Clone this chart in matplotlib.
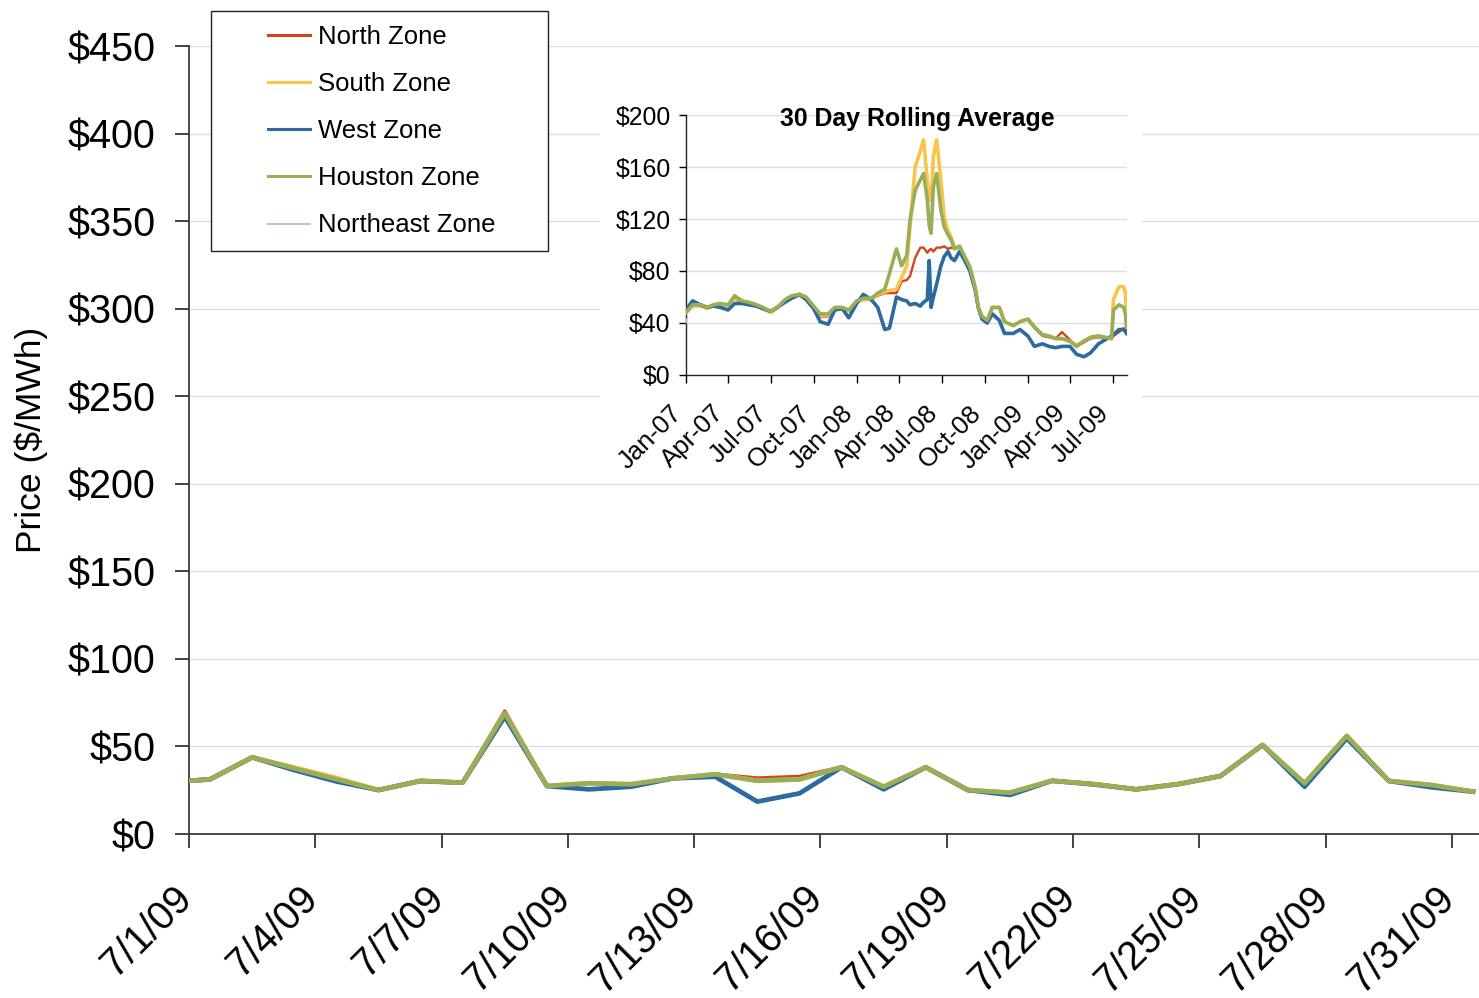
import datetime as dt
import matplotlib
matplotlib.use("Agg")
import matplotlib.pyplot as plt
import matplotlib.transforms as mtransforms
from matplotlib.patches import Rectangle
from matplotlib.ticker import FuncFormatter, MultipleLocator

plt.rcParams['font.family'] = ['Liberation Sans', 'DejaVu Sans']

# ---------------- main chart data (daily, July 2009) ----------------
main_start = dt.date(2009, 6, 30)
north_main = [29.6, 31.2, 43.8, 37.5, 31.3, 25.1, 30.3, 29.3, 70.0, 27.4, 29.0, 28.4, 31.8, 34.1, 31.8, 32.7,
              38.1, 27.0, 38.1, 25.1, 23.6, 30.4, 28.5, 25.5, 28.5, 33.1, 50.8, 29.0, 56.0, 30.3, 28.0, 24.2]
south_main = [29.6, 31.2, 43.8, 38.0, 32.0, 25.1, 30.3, 29.3, 69.0, 27.4, 29.0, 28.4, 31.8, 34.1, 30.4, 31.2,
              38.1, 27.0, 38.1, 25.1, 23.6, 30.4, 28.5, 25.5, 28.5, 33.1, 50.8, 29.0, 56.0, 30.3, 28.0, 24.2]
west_main = [29.6, 31.2, 43.8, 36.5, 30.0, 25.1, 30.3, 29.3, 67.0, 27.4, 25.5, 27.0, 31.8, 32.7, 18.5, 23.2,
             38.1, 25.5, 38.1, 25.1, 22.3, 30.4, 28.3, 25.5, 28.5, 33.1, 50.8, 27.0, 54.6, 30.3, 26.7, 24.2]
houston_main = [29.6, 31.2, 43.8, 37.5, 31.3, 25.1, 30.3, 29.3, 69.0, 27.4, 29.0, 28.4, 31.8, 34.1, 30.4, 31.2,
                38.1, 27.0, 38.1, 25.1, 23.6, 30.4, 28.5, 25.5, 28.5, 33.1, 50.8, 29.0, 56.0, 30.3, 28.0, 24.2]
main_dates = [main_start + dt.timedelta(days=i) for i in range(len(north_main))]

# ---------------- inset data: 30 day rolling average ----------------
inset_date_str = [
    "2007-01-01", "2007-01-15", "2007-02-01", "2007-02-15", "2007-03-01", "2007-03-15", "2007-04-01", "2007-04-15",
    "2007-05-01", "2007-05-15", "2007-06-01", "2007-06-15", "2007-07-01", "2007-07-15", "2007-08-01", "2007-08-15",
    "2007-09-01", "2007-09-15", "2007-10-01", "2007-10-15", "2007-11-01", "2007-11-15", "2007-12-01", "2007-12-15",
    "2008-01-01", "2008-01-15", "2008-02-01", "2008-02-15", "2008-03-01", "2008-03-11", "2008-03-26", "2008-04-06",
    "2008-04-17", "2008-04-24", "2008-05-05", "2008-05-16", "2008-05-23", "2008-05-31", "2008-06-04", "2008-06-08",
    "2008-06-13", "2008-06-20", "2008-06-29", "2008-07-06", "2008-07-14", "2008-07-21", "2008-07-28", "2008-08-08",
    "2008-08-19", "2008-08-30", "2008-09-10", "2008-09-17", "2008-09-25", "2008-10-06", "2008-10-17", "2008-11-01",
    "2008-11-12", "2008-12-01", "2008-12-15",
    "2009-01-01", "2009-01-15", "2009-02-01", "2009-02-15", "2009-03-01", "2009-03-15", "2009-04-01", "2009-04-15",
    "2009-05-01", "2009-05-15", "2009-06-01", "2009-06-15", "2009-06-29", "2009-07-03", "2009-07-15", "2009-07-25",
    "2009-07-29", "2009-07-31"]

houston_avg = [48, 54, 54, 52, 54, 55, 54, 61, 57, 56, 54, 52, 49, 52, 58, 61,
               62, 60, 53, 47, 47, 52, 52, 50,
               57, 59, 59, 63, 66, 78, 97, 84, 92, 119, 142, 150, 155, 135, 115, 109,
               145, 155, 127, 114, 108, 104, 97, 99, 91, 83, 68, 52, 45, 42, 52, 52,
               41, 38, 41,
               43, 37, 31, 30, 28, 28, 26, 22, 26, 29, 30, 29, 28, 50, 54, 52, 46, 37]
south_avg = [48, 53, 54, 51, 54, 55, 53, 60, 56, 55, 53, 51, 48, 52, 57, 60,
             62, 59, 52, 46, 46, 51, 51, 49,
             56, 58, 58, 62, 64, 65, 66, 75, 84, 114, 160, 172, 181, 150, 138, 134,
             168, 181, 150, 122, 111, 106, 98, 99, 91, 83, 68, 52, 45, 42, 52, 52,
             41, 38, 41,
             43, 37, 31, 30, 28, 28, 26, 23, 26, 29, 30, 29, 28, 58, 68, 68, 62, 37]
north_avg = [48, 53, 53, 51, 53, 54, 53, 59, 55, 55, 53, 51, 48, 51, 57, 60,
             61, 58, 52, 45, 45, 50, 51, 49,
             56, 58, 58, 61, 63, 63, 63, 72, 73, 76, 90, 98, 98, 94, 96, 97,
             95, 98, 98, 99, 97, 98, 97, 98, 91, 83, 68, 52, 45, 42, 52, 52,
             41, 38, 41,
             43, 36, 30, 29, 28, 33, 27, 22, 25, 28, 29, 28, 28, 30, 33, 36, 35, 33]
west_avg = [50, 57, 54, 52, 53, 52, 50, 55, 55, 54, 53, 51, 49, 52, 56, 59,
            62, 58, 51, 41, 39, 50, 51, 44,
            55, 62, 58, 52, 35, 36, 60, 58, 57, 54, 55, 53, 56, 58, 88, 52,
            60, 70, 84, 91, 95, 90, 88, 95, 88, 80, 66, 52, 43, 40, 47, 42,
            32, 32, 35,
            30, 22, 24, 22, 21, 22, 22, 16, 14, 17, 24, 27, 30, 31, 35, 35, 33, 32]
northeast_date_str = ["2007-01-01", "2007-01-02"]
northeast_avg = [40, 43]

inset_dates = [dt.date.fromisoformat(s) for s in inset_date_str]
northeast_dates = [dt.date.fromisoformat(s) for s in northeast_date_str]

series_names = ["North Zone", "South Zone", "West Zone", "Houston Zone", "Northeast Zone"]
colors = ["#D0471C", "#F6C54A", "#2C6AA0", "#9AAE58", "#C8B6A2"]

# ---------------- figure ----------------
W, H = 1479, 998
fig = plt.figure(figsize=(W / 100, H / 100), dpi=100)

def fx(px):
    return px / W

def fy(py):
    return 1 - py / H

# main axes
ax = fig.add_axes([fx(189), fy(834), fx(1479) - fx(189), fy(46) - fy(834)])
noon = dt.timedelta(hours=12)
mx = [dt.datetime.combine(d, dt.time()) + noon for d in main_dates]
lw = 3.4
h_n, = ax.plot(mx, north_main, color=colors[0], lw=lw * 0.85, label=series_names[0], zorder=2)
h_s, = ax.plot(mx, south_main, color=colors[1], lw=lw, label=series_names[1], zorder=3)
h_w, = ax.plot(mx, west_main, color=colors[2], lw=lw, label=series_names[2], zorder=4)
h_h, = ax.plot(mx, houston_main, color=colors[3], lw=lw, label=series_names[3], zorder=5)
h_ne, = ax.plot([], [], color=colors[4], lw=1.3, label=series_names[4])

x0 = dt.datetime(2009, 7, 1)
ax.set_xlim(x0, dt.datetime(2009, 7, 31) + dt.timedelta(hours=15.4))
ax.set_ylim(0, 450)
ax.yaxis.set_major_locator(MultipleLocator(50))
ax.yaxis.set_major_formatter(FuncFormatter(lambda v, p: f"${v:.0f}"))
xt = [x0 + dt.timedelta(days=3 * i) for i in range(11)]
ax.set_xticks(xt)
ax.set_xticklabels([f"{d.month}/{d.day}/{d.strftime('%y')}" for d in xt])
ax.grid(axis='y', color='#D5E0E5', lw=1.0)
ax.set_axisbelow(True)
for s in ['top', 'right']:
    ax.spines[s].set_visible(False)
for s in ['left', 'bottom']:
    ax.spines[s].set_color('#3a3a3a')
    ax.spines[s].set_linewidth(1.3)
ax.tick_params(axis='y', length=10, width=1.2, color='#222222', labelsize=28.5, pad=14)
ax.tick_params(axis='x', length=10, width=1.2, color='#222222', labelsize=28.5, pad=8)
off_main = mtransforms.ScaledTranslation(-17 / 100, -20 / 100, fig.dpi_scale_trans)
for lab in ax.get_xticklabels():
    lab.set_rotation(45)
    lab.set_ha('right')
    lab.set_va('top')
    lab.set_rotation_mode('anchor')
    lab.set_transform(lab.get_transform() + off_main)
ax.set_ylabel("Price ($/MWh)", fontsize=25.5)
ax.yaxis.set_label_coords(-0.109, 0.5)

# legend frame + legend
fig.patches.append(Rectangle((fx(211), fy(251)), fx(548) - fx(211), fy(11) - fy(251),
                             transform=fig.transFigure, facecolor='white', edgecolor='#222222',
                             lw=1.0, zorder=1.5))
leg = fig.legend(handles=[h_n, h_s, h_w, h_h, h_ne], labels=series_names,
                 loc='upper left', bbox_to_anchor=(fx(268), fy(25)), frameon=False,
                 fontsize=18.5, handlelength=1.65, handletextpad=0.3, labelspacing=0.9,
                 borderaxespad=0, borderpad=0)
leg.set_zorder(6)
for lh in leg.get_lines():
    lh.set_linewidth(2.2)
leg.get_lines()[4].set_linewidth(1.3)

# inset white background
fig.patches.append(Rectangle((fx(600), fy(478)), fx(1142) - fx(600), fy(100) - fy(478),
                             transform=fig.transFigure, facecolor='white', edgecolor='none', zorder=1.5))

# inset axes
ia = fig.add_axes([fx(686), fy(375), fx(1127) - fx(686), fy(115) - fy(375)], zorder=2)
ilw = 2.6
ia.plot(inset_dates, north_avg, color=colors[0], lw=1.7, zorder=2)
ia.plot(inset_dates, south_avg, color=colors[1], lw=ilw, zorder=3)
ia.plot(inset_dates, west_avg, color=colors[2], lw=ilw, zorder=4)
ia.plot(inset_dates, houston_avg, color=colors[3], lw=ilw, zorder=5)
ia.plot(northeast_dates, northeast_avg, color=colors[4], lw=1.2, zorder=6)
ia.set_xlim(dt.date(2007, 1, 1), dt.date(2009, 8, 1))
ia.set_ylim(0, 200)
ia.yaxis.set_major_locator(MultipleLocator(40))
ia.yaxis.set_major_formatter(FuncFormatter(lambda v, p: f"${v:.0f}"))
qt = [dt.date(2007 + (i * 3) // 12, (i * 3) % 12 + 1, 1) for i in range(11)]
ia.set_xticks(qt)
ia.set_xticklabels([d.strftime("%b-%y") for d in qt])
ia.grid(axis='y', color='#D5E0E5', lw=1.0)
ia.set_axisbelow(True)
for s in ['top', 'right']:
    ia.spines[s].set_visible(False)
for s in ['left', 'bottom']:
    ia.spines[s].set_color('#222222')
    ia.spines[s].set_linewidth(1.0)
ia.tick_params(axis='y', length=5, width=1.0, labelsize=17.8, pad=6)
ia.tick_params(axis='x', length=6, width=1.0, labelsize=18.5, pad=4)
off_in = mtransforms.ScaledTranslation(-16 / 100, -12 / 100, fig.dpi_scale_trans)
for lab in ia.get_xticklabels():
    lab.set_rotation(45)
    lab.set_ha('right')
    lab.set_va('top')
    lab.set_rotation_mode('anchor')
    lab.set_transform(lab.get_transform() + off_in)
fig.text(fx(917), fy(119), "30 Day Rolling Average", ha='center', va='center',
         fontsize=17.9, fontweight='bold', zorder=7)

fig.savefig("out.png", dpi=100)
